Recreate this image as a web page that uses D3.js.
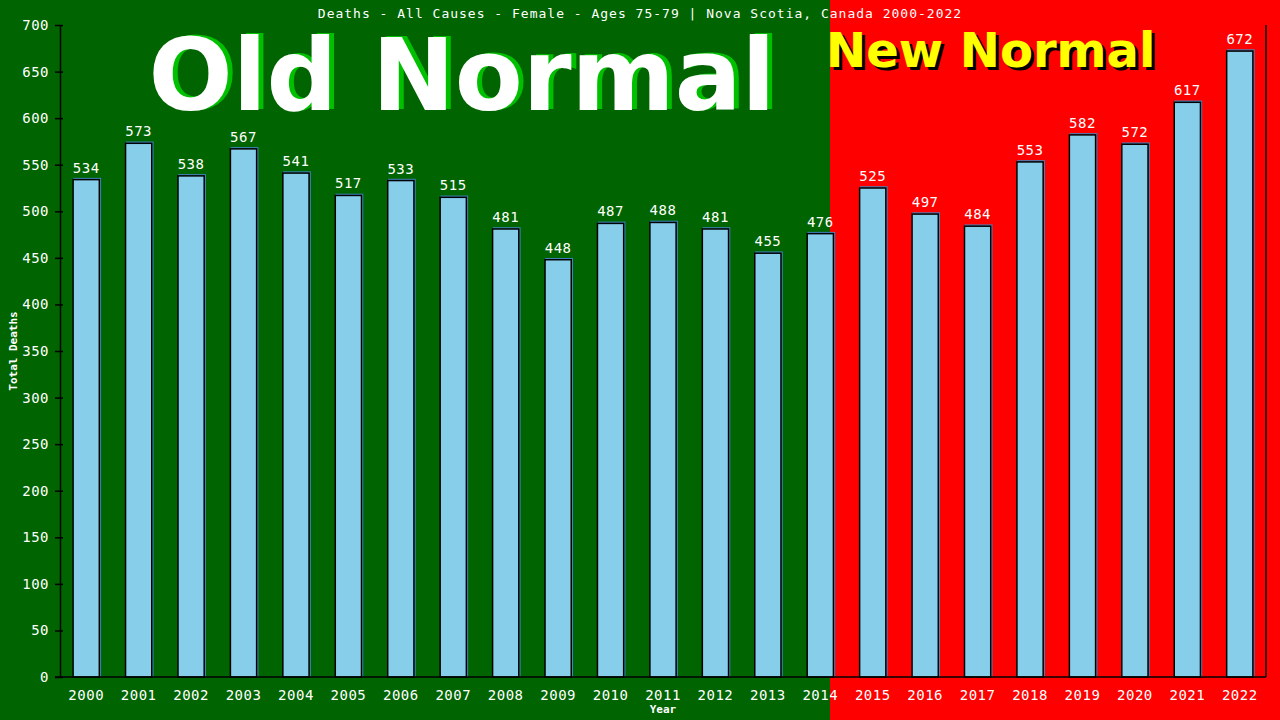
<!DOCTYPE html>
<html lang="en">
<head>
    <meta charset="UTF-8">
    <title>Deaths - All Causes - Female - Ages 75-79 | Nova Scotia</title>
    <script src="https://d3js.org/d3.v7.min.js"></script>
    <style>
        body {
            margin: 0;
            padding: 0;
            overflow: hidden;
            background: #006400;
        }
        text {
            font-family: "DejaVu Sans Mono", monospace;
            fill: #fff;
        }
    </style>
</head>
<body>
    <div id="chart"></div>

    <script>
        // Data
        const years = ["2000", "2001", "2002", "2003", "2004", "2005", "2006", "2007",
            "2008", "2009", "2010", "2011", "2012", "2013", "2014", "2015", "2016",
            "2017", "2018", "2019", "2020", "2021", "2022"];
        const deaths = [534, 573, 538, 567, 541, 517, 533, 515, 481, 448, 487, 488,
            481, 455, 476, 525, 497, 484, 553, 582, 572, 617, 672];
        const yTicks = d3.range(0, 701, 50);
        const title = "Deaths - All Causes - Female - Ages 75-79 | Nova Scotia, Canada 2000-2022";

        const width = 1280;
        const height = 720;
        const margin = { top: 25, right: 14, bottom: 43, left: 60 };
        const splitX = 830; // where the red "new normal" zone starts

        const svg = d3.select("#chart").append("svg")
            .attr("width", width)
            .attr("height", height);

        // background zones
        svg.append("rect")
            .attr("x", 0).attr("y", 0)
            .attr("width", splitX).attr("height", height)
            .attr("fill", "#006400");
        svg.append("rect")
            .attr("x", splitX).attr("y", 0)
            .attr("width", width - splitX).attr("height", height)
            .attr("fill", "#ff0000");

        const x = d3.scaleBand()
            .domain(years)
            .range([margin.left, width - margin.right])
            .paddingInner(0.5)
            .paddingOuter(0.25);

        const y = d3.scaleLinear()
            .domain([0, 700])
            .range([height - margin.bottom, margin.top]);

        // big labels
        const oldTxt = svg.append("g")
            .attr("font-weight", "bold")
            .attr("font-size", 99);
        oldTxt.append("text")
            .attr("x", 467).attr("y", 109)
            .attr("text-anchor", "middle")
            .style("font-family", "'DejaVu Sans', sans-serif")
            .style("fill", "#00c000")
            .text("Old Normal");
        oldTxt.append("text")
            .attr("x", 462).attr("y", 110)
            .attr("text-anchor", "middle")
            .style("font-family", "'DejaVu Sans', sans-serif")
            .style("fill", "#fff")
            .text("Old Normal");

        const newTxt = svg.append("g")
            .attr("font-weight", "bold")
            .attr("font-size", 48);
        newTxt.append("text")
            .attr("x", 829).attr("y", 70)
            .style("font-family", "'DejaVu Sans', sans-serif")
            .style("fill", "#000")
            .text("New Normal");
        newTxt.append("text")
            .attr("x", 826).attr("y", 67)
            .style("font-family", "'DejaVu Sans', sans-serif")
            .style("fill", "#ffff00")
            .text("New Normal");

        // bars
        const bars = svg.append("g")
            .selectAll("g")
            .data(years.map((yr, i) => ({ year: yr, value: deaths[i] })))
            .join("g");

        bars.append("rect")
            .attr("x", d => x(d.year) + 1)
            .attr("y", d => y(d.value) - 1)
            .attr("width", x.bandwidth())
            .attr("height", d => y(0) - y(d.value))
            .attr("fill", "none")
            .attr("stroke", "#3f86c0")
            .attr("stroke-width", 1.5);

        bars.append("rect")
            .attr("x", d => x(d.year))
            .attr("y", d => y(d.value))
            .attr("width", x.bandwidth())
            .attr("height", d => y(0) - y(d.value))
            .attr("fill", "#87ceeb")
            .attr("stroke", "#000")
            .attr("stroke-width", 1.5);

        bars.append("text")
            .attr("x", d => x(d.year) + x.bandwidth() / 2)
            .attr("y", d => y(d.value) - 7)
            .attr("text-anchor", "middle")
            .attr("font-size", 14)
            .attr("letter-spacing", 0.5)
            .text(d => d.value);

        // axes
        const yAxis = svg.append("g")
            .attr("transform", `translate(${margin.left},0)`)
            .call(d3.axisLeft(y).tickValues(yTicks).tickSize(5).tickSizeOuter(0));
        yAxis.selectAll(".tick line").attr("x2", -5).attr("x1", 3).attr("stroke", "#000").attr("stroke-width", 1.5);
        yAxis.select(".domain").attr("stroke", "#000").attr("stroke-width", 1.5);
        yAxis.selectAll(".tick text")
            .attr("x", -11)
            .attr("font-size", 14)
            .attr("letter-spacing", 0.5)
            .attr("font-family", "'DejaVu Sans Mono', monospace")
            .style("fill", "#fff");

        const xAxis = svg.append("g")
            .attr("transform", `translate(0,${y(0)})`)
            .call(d3.axisBottom(x).tickSize(0).tickSizeOuter(0));
        xAxis.select(".domain").remove();
        xAxis.selectAll(".tick text")
            .attr("y", 13)
            .attr("font-size", 14)
            .attr("letter-spacing", 0.5)
            .attr("font-family", "'DejaVu Sans Mono', monospace")
            .style("fill", "#fff");

        // frame lines: bottom and right
        svg.append("line")
            .attr("x1", margin.left - 5).attr("x2", width - margin.right)
            .attr("y1", y(0)).attr("y2", y(0))
            .attr("stroke", "#000").attr("stroke-width", 1.5);
        svg.append("line")
            .attr("x1", width - margin.right).attr("x2", width - margin.right)
            .attr("y1", margin.top).attr("y2", y(0))
            .attr("stroke", "#000").attr("stroke-width", 1.5);

        // titles
        svg.append("text")
            .attr("x", width / 2).attr("y", 18)
            .attr("text-anchor", "middle")
            .attr("font-size", 13)
            .attr("letter-spacing", 1)
            .text(title);

        svg.append("text")
            .attr("transform", `translate(17,${(margin.top + y(0)) / 2}) rotate(-90)`)
            .attr("text-anchor", "middle")
            .attr("font-size", 11)
            .attr("font-weight", "bold")
            .text("Total Deaths");

        svg.append("text")
            .attr("x", (margin.left + width - margin.right) / 2)
            .attr("y", 713)
            .attr("text-anchor", "middle")
            .attr("font-size", 11)
            .attr("font-weight", "bold")
            .text("Year");
    </script>
</body>
</html>
